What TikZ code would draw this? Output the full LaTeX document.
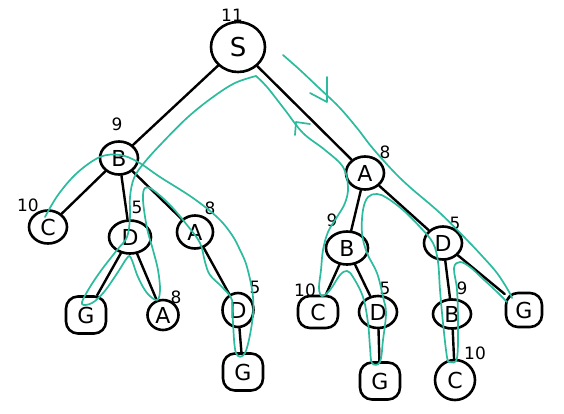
\documentclass[tikz,border=0pt]{standalone}
\usepackage{fontspec}
\setmainfont{DejaVu Sans}
\usetikzlibrary{shapes.geometric}
\definecolor{tealpath}{RGB}{43,187,158}
\begin{document}
\begin{tikzpicture}[x=1pt,y=-1pt,
 nd/.style={draw,line width=2.6pt,ellipse,inner sep=0pt,minimum width=38pt,minimum height=33pt,font=\fontsize{22}{22}\selectfont},
 gn/.style={draw,line width=2.6pt,rectangle,rounded corners=12pt,inner sep=0pt,minimum width=40pt,minimum height=37pt,font=\fontsize{22}{22}\selectfont},
 edge/.style={line width=2.4pt,line cap=round},
 num/.style={font=\fontsize{17}{17}\selectfont,inner sep=0pt},
 tpath/.style={tealpath,line width=1.7pt,line cap=round,line join=round}]
\useasboundingbox[fill=white] (0,0) rectangle (564,413);
% nodes
\node[nd,minimum width=54pt,minimum height=50pt,font=\fontsize{26}{26}\selectfont] (S) at (238,47) {S};
\node[nd] (B1) at (119,158) {B};
\node[nd] (A1) at (365,173) {A};
\node[nd] (C1) at (48,227) {C};
\node[nd,minimum width=42pt] (D1) at (130,237) {D};
\node[nd,minimum width=36pt] (A2) at (195,232) {A};
\node[gn] (G1) at (86,315) {G};
\node[nd,minimum width=31pt,minimum height=30pt] (A3) at (163,315) {A};
\node[nd,minimum width=31pt,minimum height=34pt] (D2) at (238,310) {D};
\node[gn] (G2) at (243,372) {G};
\node[nd,minimum width=42pt] (B2) at (347,248) {B};
\node[nd] (D3) at (443,243) {D};
\node[gn,minimum height=32pt] (C2) at (318,312) {C};
\node[nd,minimum height=32pt] (D4) at (378,312) {D};
\node[nd,minimum height=29pt] (B3) at (452,314) {B};
\node[gn,minimum width=36pt,minimum height=34pt] (G3) at (524,310) {G};
\node[gn] (G4) at (380,381) {G};
\node[nd,minimum width=40pt,minimum height=40pt] (C3) at (455,380) {C};
% numbers
\node[num] (n1) at (232,15) {11};
\node[num] (n2) at (117,124) {9};
\node[num] (n3) at (385,152) {8};
\node[num] (n4) at (28,205) {10};
\node[num] (n5) at (137,207) {5};
\node[num] (n6) at (210,208) {8};
\node[num] (n7) at (176,297) {8};
\node[num] (n8) at (255,287) {5};
\node[num] (n9) at (332,220) {9};
\node[num] (n10) at (455,223) {5};
\node[num] (n11) at (305,290) {10};
\node[num] (n12) at (385,288) {5};
\node[num] (n13) at (462,288) {9};
\node[num] (n14) at (475,353) {10};
% edges
\draw[edge] (S) -- (B1);
\draw[edge] (S) -- (A1);
\draw[edge] (B1) -- (C1);
\draw[edge] (B1) -- (D1);
\draw[edge] (B1) -- (A2);
\draw[edge] (D1) -- (G1);
\draw[edge] (D1) -- (A3);
\draw[edge] (A2) -- (D2);
\draw[edge] (D2) -- (G2);
\draw[edge] (A1) -- (B2);
\draw[edge] (A1) -- (D3);
\draw[edge] (B2) -- (C2);
\draw[edge] (B2) -- (D4);
\draw[edge] (D4) -- (G4);
\draw[edge] (D3) -- (B3);
\draw[edge] (D3) -- (G3);
\draw[edge] (B3) -- (C3);
% teal traversal
\draw[tpath] plot[smooth,tension=0.6] coordinates {(256,76) (235,83) (213,97) (188,117) (162,143) (144,163) (134,178) (130,197) (130,217) (127,237) (117,250) (100,272) (87,292) (82,304) (92,303) (104,292) (118,272) (127,258) (131,258) (138,277) (147,293) (157,300) (160,290) (158,270) (153,250) (147,228) (143,200) (145,188) (153,190) (170,205) (187,225) (200,243) (205,262) (210,275) (222,287) (232,300) (233,323) (236,353) (245,353) (252,323) (253,297) (247,267) (240,250) (232,235) (218,218) (193,198) (160,177) (138,162) (120,155) (100,157) (77,173) (58,195) (45,217)};
\draw[tpath] plot[smooth,tension=0.6] coordinates {(256,76) (267,87) (285,110) (303,133) (325,150) (343,167) (348,187) (345,203) (337,217) (328,232) (323,250) (321,270) (319,288) (322,296) (330,290) (340,275) (347,271) (353,277) (363,297) (368,323) (370,347) (372,363) (380,362) (383,340) (386,313) (383,297) (377,273) (367,253) (362,233) (363,210) (368,197) (377,194) (387,198) (403,210) (420,227) (433,243) (438,262) (440,290) (443,323) (447,357) (450,362) (457,358) (458,323) (457,290) (454,268) (460,262) (470,267) (482,278) (495,290) (507,302)};
\draw[tpath] plot[smooth,tension=0.6] coordinates {(283,55) (300,70) (318,87) (339,107) (357,128) (370,145) (383,160) (397,175) (412,189) (440,213) (467,240) (483,257) (497,273) (508,290) (512,298)};
% arrow marks
\draw[tpath] (327,77) -- (327,102) -- (310,93);
\draw[tpath] (295,135) -- (296,122) -- (310,124);
\end{tikzpicture}
\end{document}
